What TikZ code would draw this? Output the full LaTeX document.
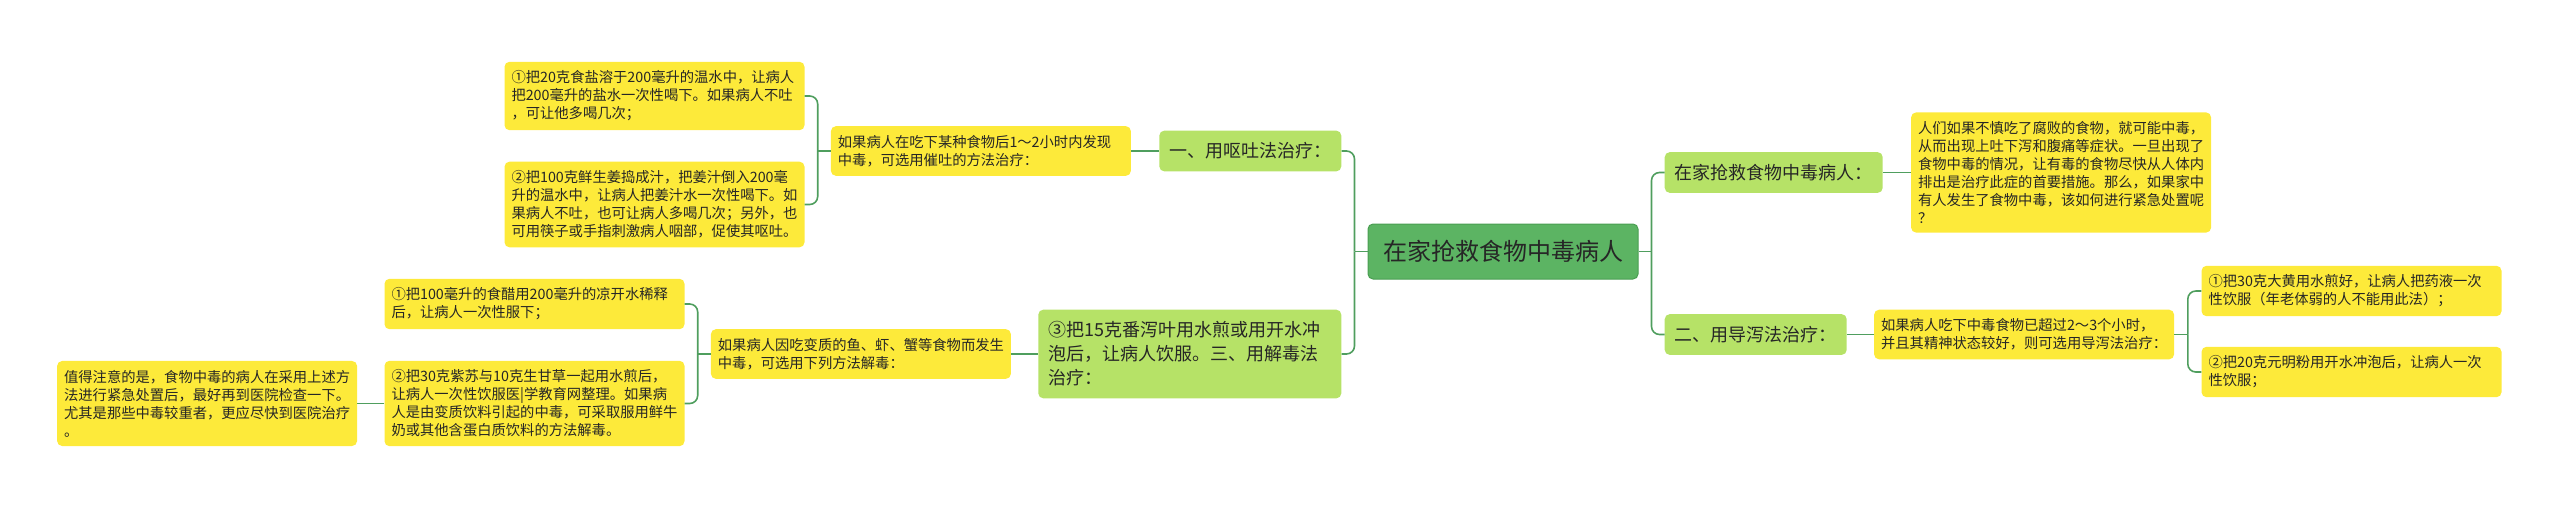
\documentclass[tikz,border=0pt]{standalone}
\usepackage{fontspec}
\setmainfont{Noto Sans CJK SC}
\usepackage{xcolor}
\usetikzlibrary{positioning}

\definecolor{rootgreen}{HTML}{5CB463}
\definecolor{rootedge}{HTML}{4A9E52}
\definecolor{topicgreen}{HTML}{B6E267}
\definecolor{noteyellow}{HTML}{FDEA3A}
\definecolor{linkgreen}{HTML}{4F9E5E}
\definecolor{inktext}{HTML}{262626}

\begin{document}
\begin{tikzpicture}[
    x=1pt, y=-1pt,
    root/.style={draw=rootedge, line width=1pt, fill=rootgreen, rounded corners=5pt, text=inktext,
        minimum width=270pt, minimum height=55pt, inner xsep=15pt, font=\fontsize{24}{30}\selectfont},
    topic/.style={fill=topicgreen, rounded corners=5pt, text=inktext, align=left,
        inner xsep=10pt, inner ysep=12pt, font=\fontsize{18}{24}\selectfont},
    note/.style={fill=noteyellow, rounded corners=5pt, text=inktext, align=left, text width=286pt,
        inner xsep=7pt, inner ysep=9pt, font=\fontsize{14.3}{18}\selectfont},
    link/.style={draw=linkgreen, line width=1.6pt, rounded corners=8pt}
]
    \useasboundingbox (0,0) rectangle (2560,509);

    \node[root] (root) at (1503,251.5) {在家抢救食物中毒病人};

    % left side
    \node[topic, left=26pt of root, yshift=100.5pt] (vomit) {一、用呕吐法治疗：};
    \node[note, left=28pt of vomit] (vomitnote) {如果病人在吃下某种食物后1～2小时内发现\\中毒，可选用催吐的方法治疗：};
    \node[note, left=26pt of vomitnote, yshift=55pt] (salt) {①把20克食盐溶于200毫升的温水中，让病人\\把200毫升的盐水一次性喝下。如果病人不吐\\，可让他多喝几次；};
    \node[note, left=26pt of vomitnote, yshift=-53.5pt] (ginger) {②把100克鲜生姜捣成汁，把姜汁倒入200毫\\升的温水中，让病人把姜汁水一次性喝下。如\\果病人不吐，也可让病人多喝几次；另外，也\\可用筷子或手指刺激病人咽部，促使其呕吐。};

    \node[topic, text width=283pt, left=26pt of root, yshift=-102.5pt] (antidote) {③把15克番泻叶用水煎或用开水冲\\泡后，让病人饮服。三、用解毒法\\治疗：};
    \node[note, left=27pt of antidote] (antinote) {如果病人因吃变质的鱼、虾、蟹等食物而发生\\中毒，可选用下列方法解毒：};
    \node[note, left=26pt of antinote, yshift=50pt] (vinegar) {①把100毫升的食醋用200毫升的凉开水稀释\\后，让病人一次性服下；};
    \node[note, left=26pt of antinote, yshift=-49.5pt] (perilla) {②把30克紫苏与10克生甘草一起用水煎后，\\让病人一次性饮服医|学教育网整理。如果病\\人是由变质饮料引起的中毒，可采取服用鲜牛\\奶或其他含蛋白质饮料的方法解毒。};
    \node[note, left=27pt of perilla] (caution) {值得注意的是，食物中毒的病人在采用上述方\\法进行紧急处置后，最好再到医院检查一下。\\尤其是那些中毒较重者，更应尽快到医院治疗\\。};

    % right side
    \node[topic, right=26pt of root, yshift=79pt] (athome) {在家抢救食物中毒病人：};
    \node[note, right=28pt of athome] (intro) {人们如果不慎吃了腐败的食物，就可能中毒，\\从而出现上吐下泻和腹痛等症状。一旦出现了\\食物中毒的情况，让有毒的食物尽快从人体内\\排出是治疗此症的首要措施。那么，如果家中\\有人发生了食物中毒，该如何进行紧急处置呢\\？};
    \node[topic, right=26pt of root, yshift=-83pt] (purge) {二、用导泻法治疗：};
    \node[note, right=27pt of purge] (purgenote) {如果病人吃下中毒食物已超过2～3个小时，\\并且其精神状态较好，则可选用导泻法治疗：};
    \node[note, right=27pt of purgenote, yshift=43.5pt] (rhubarb) {①把30克大黄用水煎好，让病人把药液一次\\性饮服（年老体弱的人不能用此法）；};
    \node[note, right=27pt of purgenote, yshift=-37.5pt] (mirabilite) {②把20克元明粉用开水冲泡后，让病人一次\\性饮服；};

    % connectors
    \coordinate (lroot) at ([xshift=-13pt]root.west);
    \coordinate (rroot) at ([xshift=13pt]root.east);
    \coordinate (lvomit) at ([xshift=-13pt]vomitnote.west);
    \coordinate (lanti) at ([xshift=-13pt]antinote.west);
    \coordinate (rpurge) at ([xshift=13.5pt]purgenote.east);

    \draw[link] (root.west) -- (lroot);
    \draw[link] (lroot) |- (vomit.east);
    \draw[link] (lroot) |- (antidote.east);
    \draw[link] (root.east) -- (rroot);
    \draw[link] (rroot) |- (athome.west);
    \draw[link] (rroot) |- (purge.west);

    \draw[link] (vomit.west) -- (vomitnote.east);
    \draw[link] (vomitnote.west) -- (lvomit);
    \draw[link] (lvomit) |- (salt.east);
    \draw[link] (lvomit) |- (ginger.east);

    \draw[link] (antidote.west) -- (antinote.east);
    \draw[link] (antinote.west) -- (lanti);
    \draw[link] (lanti) |- (vinegar.east);
    \draw[link] (lanti) |- (perilla.east);
    \draw[link] (perilla.west) -- (caution.east);

    \draw[link] (athome.east) -- (intro.west);
    \draw[link] (purge.east) -- (purgenote.west);
    \draw[link] (purgenote.east) -- (rpurge);
    \draw[link] (rpurge) |- (rhubarb.west);
    \draw[link] (rpurge) |- (mirabilite.west);
\end{tikzpicture}
\end{document}
